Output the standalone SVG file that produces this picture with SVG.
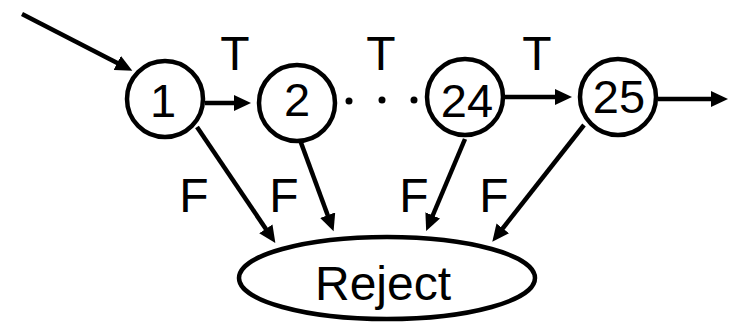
<svg xmlns="http://www.w3.org/2000/svg" width="734" height="324" viewBox="0 0 734 324">
<style>
.node{fill:#fff;stroke:#000;stroke-width:4.5}
.edge{stroke:#000;stroke-width:4.5;fill:none;marker-end:url(#ah)}
text{font-family:"Liberation Sans",Arial,Helvetica,sans-serif;fill:#000;text-anchor:middle}
.num{font-size:47px}
.lbl{font-size:48px}
</style>
<defs>
<marker id="ah" markerUnits="userSpaceOnUse" markerWidth="18" markerHeight="16" refX="11" refY="8" orient="auto">
<path d="M0,0 L17,8 L0,16 z" fill="#000"/>
</marker>
</defs>
<g id="connectors">
<line class="edge" x1="22" y1="14" x2="127" y2="68"/>
<line class="edge" x1="205" y1="103" x2="245" y2="103"/>
<line class="edge" x1="505" y1="97" x2="566" y2="97"/>
<line class="edge" x1="658" y1="99" x2="722" y2="99"/>
<line class="edge" x1="197" y1="127" x2="272" y2="238"/>
<line class="edge" x1="300" y1="140" x2="331.5" y2="225.5"/>
<line class="edge" x1="465" y1="139" x2="428.5" y2="225.5"/>
<line class="edge" x1="584" y1="125" x2="496" y2="237"/>
<circle cx="349" cy="101" r="3.5" fill="#000"/>
<circle cx="382" cy="100" r="3.5" fill="#000"/>
<circle cx="414" cy="100" r="3.5" fill="#000"/>
<text class="lbl" x="235" y="70">T</text>
<text class="lbl" x="381" y="70">T</text>
<text class="lbl" x="537" y="70">T</text>
<text class="lbl" x="194" y="212">F</text>
<text class="lbl" x="284" y="212">F</text>
<text class="lbl" x="414" y="212">F</text>
<text class="lbl" x="494" y="212">F</text>
</g>
<g id="n1">
<circle class="node" cx="165" cy="99" r="38"/>
<text class="num" x="163" y="117">1</text>
</g>
<g id="n2">
<circle class="node" cx="297" cy="103" r="38"/>
<text class="num" x="297" y="116">2</text>
</g>
<g id="n24">
<circle class="node" cx="465" cy="97" r="38"/>
<text class="num" x="467" y="117">24</text>
</g>
<g id="n25">
<circle class="node" cx="618" cy="97" r="38"/>
<text class="num" x="619" y="113">25</text>
</g>
<g id="reject">
<ellipse class="node" cx="387" cy="278" rx="148" ry="41"/>
<text class="lbl" x="383" y="300">Reject</text>
</g>
</svg>
